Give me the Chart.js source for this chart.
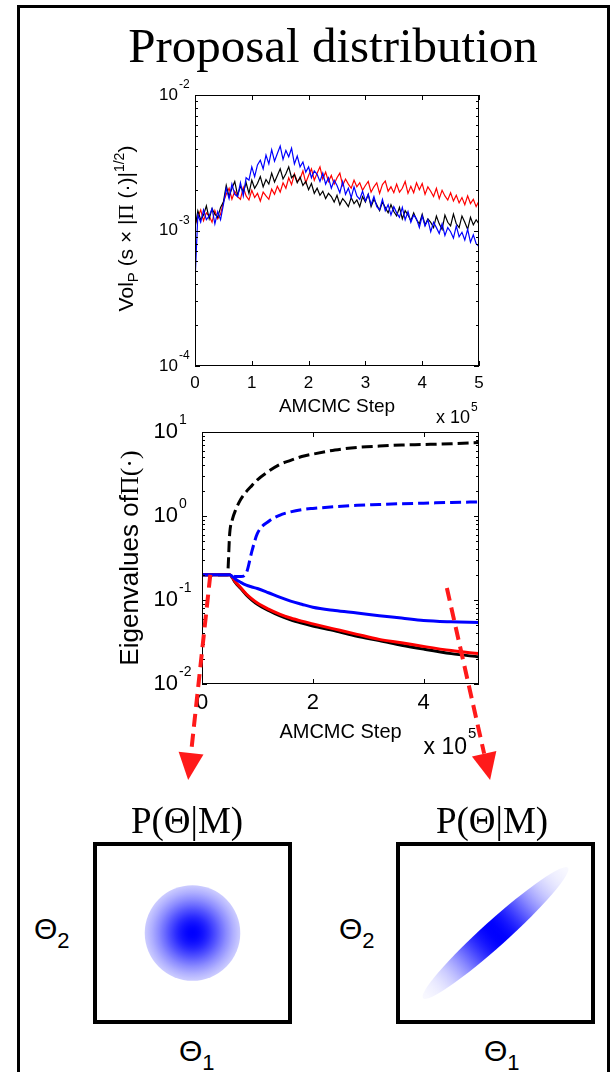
<!DOCTYPE html>
<html>
<head>
<meta charset="utf-8">
<script src="https://cdn.jsdelivr.net/npm/chart.js@4/dist/chart.umd.min.js"></script>
<style>
  html, body { margin: 0; padding: 0; background: #fff; overflow: hidden; }
  body { width: 615px; height: 1072px; position: relative; }
  .frame { position: absolute; left: 17px; top: 5px; width: 587px; height: 1200px; border: 3px solid #000; }
  .abs { position: absolute; line-height: 1; white-space: nowrap; color: #000; }
  .serif { font-family: "Liberation Serif", "Times New Roman", serif; }
  .sans { font-family: "Liberation Sans", Arial, sans-serif; }
  canvas { position: absolute; }
  .theta { font-size: 30px; }
  .theta span { font-size: 22px; position: relative; top: 9px; }
</style>
</head>
<body>
<div class="frame"></div>
<div class="abs serif" style="left:0; width:666px; text-align:center; top:21px; font-size:49px;">Proposal distribution</div>

<canvas id="volChart" width="615" height="355" style="left:0; top:70px;"></canvas>
<canvas id="eigChart" width="615" height="390" style="left:0; top:405px;"></canvas>
<canvas id="blobStart" width="205" height="188" style="left:90px; top:839px;"></canvas>
<canvas id="blobEnd" width="205" height="188" style="left:393px; top:839px;"></canvas>

<div class="abs serif" style="left:87px; width:200px; text-align:center; top:802px; font-size:37px;">P(Θ|M)</div>
<div class="abs serif" style="left:392px; width:200px; text-align:center; top:802px; font-size:37px;">P(Θ|M)</div>
<div class="abs sans theta" style="left:34px; top:914px;">Θ<span>2</span></div>
<div class="abs sans theta" style="left:339px; top:914px;">Θ<span>2</span></div>
<div class="abs sans theta" style="left:179px; top:1036px;">Θ<span>1</span></div>
<div class="abs sans theta" style="left:484px; top:1036px;">Θ<span>1</span></div>

<script>
// ---- top panel: proposal volume (units of 1e-3), x in units of 1e5 steps ----
const volSteps = Array.from({ length: 101 }, (_, i) => +(i * 0.05).toFixed(2))
const volBlue = [
  0.42, 1.30, 1.15, 1.42, 1.20, 1.28, 1.45, 1.12, 1.38, 1.20,
  1.55, 2.05, 1.72, 2.20, 1.85, 1.78, 2.25, 1.80, 2.45, 2.35,
  2.95, 2.50, 3.05, 3.30, 2.85, 3.60, 3.10, 3.95, 3.25, 3.70,
  4.20, 3.35, 3.90, 3.50, 4.05, 3.10, 3.55, 2.95, 3.20, 2.70,
  2.95, 2.45, 2.75, 2.60, 2.30, 2.65, 2.20, 2.45, 2.05, 2.35,
  2.15, 1.90, 2.30, 1.85, 2.05, 1.75, 2.10, 1.80, 1.70, 1.95,
  1.65, 1.85, 1.55, 1.78, 1.50, 1.42, 1.70, 1.40, 1.55, 1.30,
  1.50, 1.35, 1.25, 1.48, 1.20, 1.38, 1.15, 1.30, 1.22, 1.05,
  1.28, 1.08, 1.20, 0.98, 1.15, 1.05, 0.95, 1.12, 0.92, 1.05,
  0.98, 0.88, 1.08, 0.90, 0.97, 0.85, 1.02, 0.82, 0.93, 0.80,
  0.76
]
const volBlack = [
  1.05, 1.40, 1.20, 1.30, 1.52, 1.22, 1.45, 1.32, 1.25, 1.48,
  1.62, 2.15, 1.78, 2.05, 2.30, 1.82, 2.12, 1.92, 2.25, 1.88,
  2.35, 2.05, 2.22, 2.50, 2.10, 2.38, 2.20, 2.65, 2.28, 2.55,
  2.85, 2.40, 2.62, 2.95, 2.45, 2.58, 2.25, 2.48, 2.15, 2.30,
  2.00, 2.22, 1.88, 2.05, 1.82, 1.95, 1.72, 1.88, 1.78, 1.62,
  1.82, 1.55, 1.72, 1.62, 1.50, 1.75, 1.58, 1.68, 1.50, 1.78,
  1.62, 1.85, 1.50, 1.70, 1.55, 1.40, 1.62, 1.48, 1.35, 1.55,
  1.38, 1.28, 1.48, 1.22, 1.40, 1.30, 1.18, 1.35, 1.20, 1.12,
  1.32, 1.10, 1.22, 1.15, 1.05, 1.28, 1.12, 1.02, 1.30, 1.15,
  1.08, 1.32, 1.12, 1.05, 1.28, 1.15, 1.02, 1.25, 1.10, 1.20,
  1.12
]
const volRed = [
  1.10, 1.25, 1.42, 1.18, 1.35, 1.28, 1.15, 1.40, 1.22, 1.32,
  1.62, 1.85, 2.05, 1.70, 1.95, 1.78, 1.70, 2.08, 1.80, 1.68,
  1.98, 1.75, 1.88, 1.65, 1.92, 1.80, 1.70, 2.02, 1.85, 2.12,
  1.92, 2.25, 2.05, 2.45, 2.18, 2.62, 2.30, 2.40, 2.75, 2.25,
  2.55, 2.85, 2.35, 2.65, 2.95, 2.40, 2.70, 2.30, 2.55, 2.20,
  2.45, 2.65, 2.15, 2.40, 2.20, 2.05, 2.35, 2.10, 2.25, 1.98,
  2.15, 2.30, 1.92, 2.10, 2.25, 1.88, 2.18, 2.32, 1.95, 2.10,
  1.90, 2.20, 1.92, 2.05, 2.30, 1.88, 2.12, 1.90, 2.25, 2.00,
  2.22, 1.85, 2.10, 1.95, 1.78, 2.05, 1.72, 1.98, 1.80, 1.68,
  1.90, 1.65, 1.82, 1.60, 1.75, 1.55, 1.80, 1.58, 1.70, 1.50,
  1.65
]
const volXTicks = [0, 1, 2, 3, 4, 5]
const volYTicks = [1e-4, 1e-3, 1e-2]

// ---- middle panel: eigenvalues of the proposal covariance ----
const eigSteps = [0, 0.46, 0.5, 0.55, 0.6, 0.7, 0.8, 0.9, 1.0, 1.2, 1.4, 1.6, 1.8, 2.0, 2.4, 2.8, 3.2, 3.6, 4.0, 4.5, 5.0]
const eigBlackDash = [0.2, 0.2, 0.62, 0.92, 1.15, 1.58, 1.95, 2.3, 2.7, 3.4, 4.1, 4.6, 5.1, 5.45, 6.1, 6.55, 6.8, 7.0, 7.1, 7.25, 7.5]
const eigBlueDash = [0.2, 0.2, 0.2, 0.195, 0.19, 0.19, 0.21, 0.38, 0.62, 0.86, 1.02, 1.12, 1.19, 1.23, 1.29, 1.34, 1.37, 1.4, 1.42, 1.45, 1.47]
const eigBlue = [0.2, 0.2, 0.2, 0.19, 0.178, 0.162, 0.15, 0.143, 0.137, 0.122, 0.108, 0.097, 0.089, 0.082, 0.075, 0.07, 0.065, 0.061, 0.057, 0.055, 0.054]
const eigRed = [0.2, 0.2, 0.2, 0.185, 0.165, 0.14, 0.118, 0.103, 0.092, 0.078, 0.068, 0.061, 0.056, 0.052, 0.045, 0.039, 0.034, 0.031, 0.028, 0.025, 0.023]
const eigBlack = [0.2, 0.2, 0.2, 0.183, 0.162, 0.137, 0.115, 0.1, 0.089, 0.075, 0.065, 0.058, 0.053, 0.049, 0.043, 0.037, 0.033, 0.029, 0.026, 0.023, 0.021]
const eigXTicks = [0, 2, 4]
const eigYTicks = [1e-2, 1e-1, 1e0, 1e1]
// dashed arrows, in (step, eigenvalue) coordinates
const arrowFrom = [[0.15, 0.2], [4.42, 0.139]]
const arrowTo = [[-0.25, 7.2e-4], [5.2, 7.2e-4]]

// ---- bottom: proposal density early / late ----
const blobSemiMajor = [0.49, 1.0]
const blobSemiMinor = [0.49, 0.13]
const blobAngle = [0, 42]
const blobFalloff = [1.6, 3.8]

const pts = (xs, ys, k = 1) => xs.map((x, i) => ({ x: x, y: ys[i] * k }))

function minorTicks(majors) {
  const out = []
  for (let i = 0; i < majors.length - 1; i++) {
    for (let m = 2; m <= 9; m++) out.push(majors[i] * m)
  }
  return out
}

function richText(ctx, parts) {
  let w = 0
  parts.forEach((p) => { ctx.font = p[1]; w += ctx.measureText(p[0]).width })
  let x = -w / 2
  parts.forEach((p) => {
    ctx.font = p[1]
    ctx.fillText(p[0], x, p[2] || 0)
    x += ctx.measureText(p[0]).width
  })
}

// MATLAB-style box, inward ticks and hand-set labels
const matlabAxes = {
  id: "matlabAxes",
  afterDatasetsDraw(chart, args, o) {
    const { ctx, chartArea: a } = chart
    const xs = chart.scales.x
    const ys = chart.scales.y
    const line = (x1, y1, x2, y2) => { ctx.beginPath(); ctx.moveTo(x1, y1); ctx.lineTo(x2, y2); ctx.stroke() }
    ctx.save()
    ctx.strokeStyle = "#000"
    ctx.lineWidth = 1
    ctx.strokeRect(a.left + 0.5, a.top + 0.5, a.right - a.left - 1, a.bottom - a.top - 1)
    o.xTicks.forEach((v) => {
      const px = Math.round(xs.getPixelForValue(v)) + 0.5
      line(px, a.bottom, px, a.bottom - 5)
      line(px, a.top, px, a.top + 5)
    })
    o.yTicks.forEach((v) => {
      const py = Math.round(ys.getPixelForValue(v)) + 0.5
      line(a.left, py, a.left + 5, py)
      line(a.right, py, a.right - 5, py)
    })
    minorTicks(o.yTicks).forEach((v) => {
      const py = Math.round(ys.getPixelForValue(v)) + 0.5
      line(a.left, py, a.left + 3, py)
      line(a.right, py, a.right - 3, py)
    })

    ctx.fillStyle = "#000"
    ctx.textBaseline = "middle"
    ctx.textAlign = "center"
    ctx.font = o.xFont
    o.xTicks.forEach((v) => ctx.fillText(String(v), xs.getPixelForValue(v), a.bottom + o.xLabelOff))
    o.yTicks.forEach((v) => {
      const py = ys.getPixelForValue(v)
      ctx.textAlign = "right"
      ctx.font = o.yFont
      ctx.fillText("10", o.yLabelRight, py)
      ctx.textAlign = "left"
      ctx.font = o.supFont
      ctx.fillText(String(Math.round(Math.log10(v))), o.yLabelRight + 1, py - o.supRise)
    })

    // x axis title and exponent
    ctx.textAlign = "center"
    ctx.font = o.titleFont
    ctx.fillText("AMCMC Step", (a.left + a.right) / 2, a.bottom + o.titleOff)
    ctx.textAlign = "right"
    ctx.font = o.expFont
    ctx.fillText("x 10", a.right - o.expRight, a.bottom + o.expOff)
    ctx.textAlign = "left"
    ctx.font = o.expSupFont
    ctx.fillText("5", a.right - o.expRight + 1, a.bottom + o.expOff - o.expRise)

    // rotated y title
    ctx.save()
    ctx.translate(o.yTitleX, (a.top + a.bottom) / 2 + o.yTitleDy)
    ctx.rotate(-Math.PI / 2)
    ctx.textAlign = "left"
    ctx.textBaseline = "alphabetic"
    richText(ctx, o.yTitle)
    ctx.restore()
    ctx.restore()
  },
}

const dashedArrows = {
  id: "dashedArrows",
  afterDraw(chart, args, o) {
    if (!o.from) return
    const { ctx } = chart
    const xs = chart.scales.x
    const ys = chart.scales.y
    ctx.save()
    ctx.strokeStyle = "#ff1a1a"
    ctx.fillStyle = "#ff1a1a"
    o.from.forEach((f, i) => {
      const x1 = xs.getPixelForValue(f[0]), y1 = ys.getPixelForValue(f[1])
      const x2 = xs.getPixelForValue(o.to[i][0]), y2 = ys.getPixelForValue(o.to[i][1])
      const len = Math.hypot(x2 - x1, y2 - y1)
      const ux = (x2 - x1) / len, uy = (y2 - y1) / len
      const bx = x2 - ux * 27, by = y2 - uy * 27
      ctx.lineWidth = 4
      ctx.setLineDash([13, 7])
      ctx.beginPath(); ctx.moveTo(x1, y1); ctx.lineTo(bx, by); ctx.stroke()
      ctx.setLineDash([])
      ctx.beginPath()
      ctx.moveTo(x2, y2)
      ctx.lineTo(bx - uy * 12.5, by + ux * 12.5)
      ctx.lineTo(bx + uy * 12.5, by - ux * 12.5)
      ctx.closePath()
      ctx.fill()
    })
    ctx.restore()
  },
}

const densityBlob = {
  id: "densityBlob",
  afterDatasetsDraw(chart, args, o) {
    const { ctx, chartArea: a } = chart
    const xs = chart.scales.x
    const ys = chart.scales.y
    const unit = xs.getPixelForValue(1) - xs.getPixelForValue(0)
    const shade = (t) => {
      const I = Math.exp(-o.falloff * t * t)
      const c = Math.round(255 * (1 - I))
      return "rgb(" + c + "," + c + ",255)"
    }
    chart.data.datasets[0].data.forEach((p) => {
      const rx = o.semiMajor * unit
      const ry = o.semiMinor * unit
      ctx.save()
      ctx.translate(xs.getPixelForValue(p.x), ys.getPixelForValue(p.y))
      ctx.rotate((-o.angle * Math.PI) / 180)
      let g
      if (o.axial) {
        g = ctx.createLinearGradient(-rx, 0, rx, 0)
        for (let i = 0; i <= 40; i++) g.addColorStop(i / 40, shade(Math.abs(i / 20 - 1)))
      } else {
        g = ctx.createRadialGradient(0, 0, 0, 0, 0, rx)
        for (let i = 0; i <= 20; i++) g.addColorStop(i / 20, shade(i / 20))
      }
      ctx.fillStyle = g
      ctx.beginPath()
      ctx.ellipse(0, 0, rx, ry, 0, 0, Math.PI * 2)
      ctx.fill()
      ctx.restore()
    })
    ctx.save()
    ctx.strokeStyle = "#000"
    ctx.lineWidth = 4
    ctx.strokeRect(a.left, a.top, a.right - a.left, a.bottom - a.top)
    ctx.restore()
  },
}

const baseOpts = (padding, ymin, ymax) => ({
  responsive: false,
  animation: false,
  events: [],
  layout: { padding: padding },
  plugins: { legend: { display: false }, tooltip: { enabled: false } },
  scales: {
    x: { type: "linear", display: false, min: 0, max: 5 },
    y: { type: "logarithmic", display: false, min: ymin, max: ymax },
  },
})

const thin = (label, data, color) => ({
  label: label, data: data, borderColor: color, borderWidth: 1.2,
  pointRadius: 0, tension: 0, fill: false,
})

const volOpts = baseOpts({ left: 195, right: 136, top: 25, bottom: 59 }, 1e-4, 1e-2)
volOpts.plugins.matlabAxes = {
  xTicks: volXTicks, yTicks: volYTicks,
  xFont: "17px Arial", xLabelOff: 17,
  yFont: "17px Arial", supFont: "12px Arial", supRise: 10, yLabelRight: 178,
  titleFont: "19px Arial", titleOff: 41,
  expFont: "18px Arial", expSupFont: "12px Arial", expRight: 9, expOff: 52, expRise: 10,
  yTitleX: 133, yTitleDy: -2,
  yTitle: [
    ["Vol", "21px Arial"], ["P", "15px Arial", 5], [" (s \u00d7 |", "21px Arial"],
    ["\u03a0", "21px 'Liberation Serif'"], [" (\u00b7)|", "21px Arial"],
    ["1/2", "14px Arial", -9], [")", "21px Arial"],
  ],
}

new Chart(document.getElementById("volChart"), {
  type: "line",
  data: {
    datasets: [
      thin("blue", pts(volSteps, volBlue, 1e-3), "#0000ff"),
      thin("black", pts(volSteps, volBlack, 1e-3), "#000000"),
      thin("red", pts(volSteps, volRed, 1e-3), "#ff0000"),
    ],
  },
  options: volOpts,
  plugins: [matlabAxes],
})

const thick = (label, data, color, dashed) => ({
  label: label, data: data, borderColor: color, borderWidth: 3,
  borderDash: dashed ? [11, 5] : [], pointRadius: 0,
  cubicInterpolationMode: "monotone", fill: false,
})

const eigOpts = baseOpts({ left: 202, right: 136, top: 27, bottom: 111 }, 1e-2, 1e1)
eigOpts.plugins.matlabAxes = {
  xTicks: eigXTicks, yTicks: eigYTicks,
  xFont: "22px Arial", xLabelOff: 19,
  yFont: "22px Arial", supFont: "14px Arial", supRise: 12, yLabelRight: 178,
  titleFont: "20px Arial", titleOff: 48,
  expFont: "23px Arial", expSupFont: "15px Arial", expRight: 12, expOff: 64, expRise: 14,
  yTitleX: 138, yTitleDy: 0,
  yTitle: [["Eigenvalues of", "26px Arial"], ["\u03a0(\u00b7)", "26px 'Liberation Serif'"]],
}
eigOpts.plugins.dashedArrows = { from: arrowFrom, to: arrowTo }

new Chart(document.getElementById("eigChart"), {
  type: "line",
  data: {
    datasets: [
      thick("blue", pts(eigSteps, eigBlue), "#0000ff", false),
      thick("red", pts(eigSteps, eigRed), "#ff0000", false),
      thick("black", pts(eigSteps, eigBlack), "#000000", false),
      thick("blue dashed", pts(eigSteps, eigBlueDash), "#0000ff", true),
      thick("black dashed", pts(eigSteps, eigBlackDash), "#000000", true),
    ],
  },
  options: eigOpts,
  plugins: [matlabAxes, dashedArrows],
})

;["blobStart", "blobEnd"].forEach((id, i) => {
  new Chart(document.getElementById(id), {
    type: "scatter",
    data: { datasets: [{ data: [{ x: 0, y: 0 }], pointRadius: 0 }] },
    options: {
      responsive: false,
      animation: false,
      events: [],
      layout: { padding: 5 },
      plugins: {
        legend: { display: false },
        tooltip: { enabled: false },
        densityBlob: {
          semiMajor: blobSemiMajor[i], semiMinor: blobSemiMinor[i],
          angle: blobAngle[i], falloff: blobFalloff[i], axial: i === 1,
        },
      },
      scales: {
        x: { type: "linear", display: false, min: -1, max: 1 },
        y: { type: "linear", display: false, min: -1, max: 1 },
      },
    },
    plugins: [densityBlob],
  })
})
</script>
</body>
</html>
